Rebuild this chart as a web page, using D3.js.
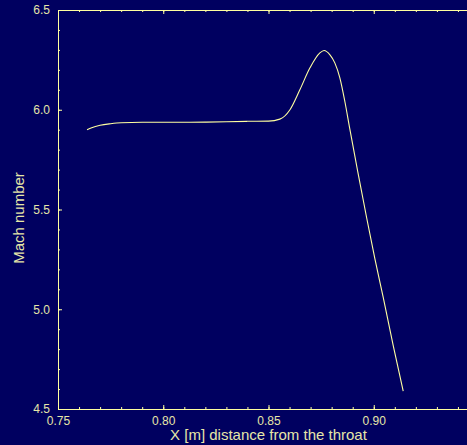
<!DOCTYPE html>
<html>
<head>
<meta charset="utf-8">
<script src="https://cdn.jsdelivr.net/npm/d3@7"></script>
<style>
  body { margin: 0; background: #000060; }
  svg { display: block; }
</style>
</head>
<body>
<div id="chart"></div>
<script>
// Mach number along the nozzle
var machX = [0.7638, 0.766, 0.770, 0.775, 0.780, 0.790, 0.800, 0.810, 0.820, 0.830, 0.840, 0.850,
             0.8554, 0.8602, 0.8649, 0.8697, 0.8744, 0.8764, 0.8792, 0.8815, 0.8839, 0.8863,
             0.8886, 0.8924, 0.8966, 0.9005, 0.9045, 0.9092, 0.914];
var machY = [5.900, 5.910, 5.922, 5.930, 5.935, 5.937, 5.937, 5.937, 5.938, 5.940, 5.942, 5.943,
             5.953, 6.000, 6.100, 6.210, 6.285, 6.297, 6.275, 6.235, 6.160, 6.040,
             5.905, 5.690, 5.460, 5.255, 5.060, 4.820, 4.590];

var xTicks = [0.75, 0.80, 0.85, 0.90];
var yTicks = [4.5, 5.0, 5.5, 6.0, 6.5];

var width = 467, height = 445;
var margin = {top: 10, left: 58, bottom: 36};
var fg = "#ffffa0", txt = "#e6e6a8";

var svg = d3.select("#chart").append("svg")
    .attr("width", width)
    .attr("height", height);

svg.append("rect").attr("width", width).attr("height", height).attr("fill", "#000060");

var x = d3.scaleLinear().domain([0.75, 0.95]).range([margin.left, margin.left + 421]);
var y = d3.scaleLinear().domain([4.5, 6.5]).range([height - margin.bottom, margin.top]);

var minorX = d3.range(75, 96).map(function(d) { return d / 100; });
var minorY = d3.range(45, 66).map(function(d) { return d / 10; });

function style(g) {
  g.selectAll("path.domain").attr("stroke", fg).attr("stroke-width", 1);
  g.selectAll("line").attr("stroke", fg);
  g.selectAll("text").attr("fill", txt)
    .style("font-family", "'Liberation Sans', Arial, sans-serif")
    .style("font-size", "12px");
}

// bottom
svg.append("g")
    .attr("transform", "translate(0," + y(4.5) + ")")
    .call(d3.axisBottom(x).tickValues(minorX).tickSize(-2).tickSizeOuter(0).tickFormat(""))
    .call(style);
svg.append("g")
    .attr("transform", "translate(0," + y(4.5) + ")")
    .call(d3.axisBottom(x).tickValues(xTicks).tickSize(-4).tickSizeOuter(0).tickPadding(7)
      .tickFormat(d3.format(".2f")))
    .call(style);

// top
svg.append("g")
    .attr("transform", "translate(0," + y(6.5) + ")")
    .call(d3.axisTop(x).tickValues(minorX).tickSize(-2).tickSizeOuter(0).tickFormat(""))
    .call(style);
svg.append("g")
    .attr("transform", "translate(0," + y(6.5) + ")")
    .call(d3.axisTop(x).tickValues(xTicks).tickSize(-4).tickSizeOuter(0).tickFormat(""))
    .call(style);

// left
svg.append("g")
    .attr("transform", "translate(" + x(0.75) + ",0)")
    .call(d3.axisLeft(y).tickValues(minorY).tickSize(-2).tickSizeOuter(0).tickFormat(""))
    .call(style);
svg.append("g")
    .attr("transform", "translate(" + x(0.75) + ",0)")
    .call(d3.axisLeft(y).tickValues(yTicks).tickSize(-4).tickSizeOuter(0).tickPadding(8)
      .tickFormat(d3.format(".1f")))
    .call(style);

// curve
var line = d3.line()
    .x(function(d, i) { return x(machX[i]); })
    .y(function(d) { return y(d); })
    .curve(d3.curveMonotoneX);

svg.append("path")
    .datum(machY)
    .attr("d", line)
    .attr("fill", "none")
    .attr("stroke", fg)
    .attr("stroke-width", 1.1);

// axis titles
svg.append("text")
    .attr("x", (x(0.75) + x(0.95)) / 2)
    .attr("y", 440)
    .attr("text-anchor", "middle")
    .attr("fill", txt)
    .style("font-family", "'Liberation Sans', Arial, sans-serif")
    .style("font-size", "15px")
    .text("X [m] distance from the throat");

svg.append("text")
    .attr("transform", "translate(24,218) rotate(-90)")
    .attr("text-anchor", "middle")
    .attr("fill", txt)
    .style("font-family", "'Liberation Sans', Arial, sans-serif")
    .style("font-size", "15px")
    .text("Mach number");
</script>
</body>
</html>
